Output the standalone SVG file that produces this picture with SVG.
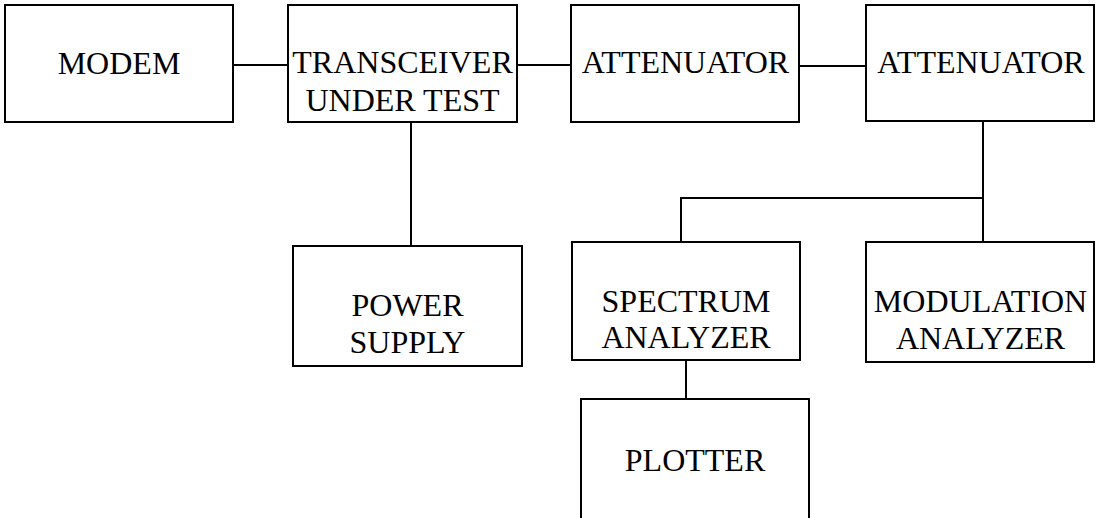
<svg xmlns="http://www.w3.org/2000/svg" width="1096" height="518" viewBox="0 0 1096 518">
<style>
rect.box{fill:#fff;stroke:#000;stroke-width:2}
.conn line{stroke:#000;stroke-width:2}
text{font-family:"Liberation Serif","Times New Roman",serif;font-size:32px;fill:#000;text-anchor:middle}
</style>
<rect width="1096" height="518" fill="#fff"/>
<g id="connectors" class="conn">
<line x1="233" y1="65" x2="288" y2="65"/>
<line x1="517" y1="65" x2="571" y2="65"/>
<line x1="799" y1="66" x2="866" y2="66"/>
<line x1="411" y1="122" x2="411" y2="246"/>
<line x1="983" y1="121" x2="983" y2="242"/>
<line x1="680" y1="198" x2="984" y2="198"/>
<line x1="681" y1="197" x2="681" y2="242"/>
<line x1="686" y1="360" x2="686" y2="399"/>
</g>
<g id="modem"><rect class="box" x="5" y="5" width="228" height="117"/><text x="119" y="74">MODEM</text></g>
<g id="transceiver"><rect class="box" x="288" y="5" width="229" height="117"/><text x="402.5" y="73">TRANSCEIVER</text><text x="402.5" y="111">UNDER TEST</text></g>
<g id="attenuator1"><rect class="box" x="571" y="5" width="228" height="117"/><text x="685.5" y="73">ATTENUATOR</text></g>
<g id="attenuator2"><rect class="box" x="866" y="5" width="228" height="116"/><text x="981" y="73">ATTENUATOR</text></g>
<g id="power-supply"><rect class="box" x="293" y="246" width="229" height="120"/><text x="407.5" y="316">POWER</text><text x="407.5" y="353">SUPPLY</text></g>
<g id="spectrum-analyzer"><rect class="box" x="572" y="242" width="228" height="118"/><text x="686" y="312">SPECTRUM</text><text x="686" y="348">ANALYZER</text></g>
<g id="modulation-analyzer"><rect class="box" x="866" y="242" width="228" height="120"/><text x="980.5" y="312">MODULATION</text><text x="980.5" y="349">ANALYZER</text></g>
<g id="plotter"><rect class="box" x="581" y="399" width="228" height="125"/><text x="695" y="471">PLOTTER</text></g>
</svg>
